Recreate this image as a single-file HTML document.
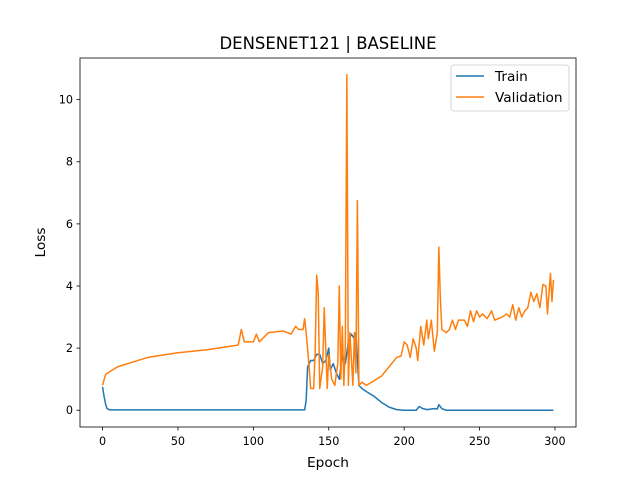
<!DOCTYPE html>
<html><head><meta charset="utf-8"><style>
body{margin:0;background:#fff}
svg{display:block;font-family:"DejaVu Sans","Liberation Sans",sans-serif}
</style></head><body>
<svg id="chart" width="640" height="480" xmlns="http://www.w3.org/2000/svg">
<rect width="640" height="480" fill="#fff"/>
<text x="328" y="49" text-anchor="middle" font-size="16.5">DENSENET121 | BASELINE</text>
<g id="ticks"></g>
<clipPath id="clip"><rect x="80" y="58" width="496" height="369"/></clipPath>
<g id="series" clip-path="url(#clip)"></g>
<rect x="80" y="58" width="496" height="369" fill="none" stroke="#000" stroke-width="0.8"/>
<text x="328" y="467" text-anchor="middle" font-size="13.7">Epoch</text>
<text transform="translate(45,242.5) rotate(-90)" text-anchor="middle" font-size="13.7">Loss</text>
<g>
<rect x="451" y="65" width="118" height="46" rx="3" fill="#fff" stroke="#ccc" stroke-width="0.8"/>
<line x1="456" y1="76" x2="484" y2="76" stroke="#1f77b4" stroke-width="1.5"/>
<text x="495" y="81" font-size="13.7">Train</text>
<line x1="456" y1="97" x2="484" y2="97" stroke="#ff7f0e" stroke-width="1.5"/>
<text x="495" y="102" font-size="13.7">Validation</text>
</g>
</svg>
<script>
const xTicks=[0,50,100,150,200,250,300];
const yTicks=[0,2,4,6,8,10];
const trainEpochs=[0,1,2,3,5,134,135,136,138,140,142,144,146,148,150,151,153,155,157,159,161,163,165,167,168,170,172,175,180,185,190,195,200,208,210,212,215,220,222,223,225,228,299];
const trainLoss=[0.75,0.45,0.2,0.05,0.01,0.01,0.3,1.4,1.6,1.6,1.8,1.8,1.5,1.6,2.0,1.3,1.5,1.2,1.0,1.8,1.5,2.2,2.45,2.3,2.5,0.8,0.7,0.6,0.45,0.25,0.1,0.02,0.0,0.0,0.12,0.06,0.02,0.05,0.04,0.18,0.05,0.0,0.0];
const valEpochs=[0,2,5,10,20,30,50,70,90,92,94,100,102,104,110,120,125,128,130,133,134,135,137,138,140,141,142,143,144,146,147,149,150,152,154,156,157,158,159,160,161,162,163,164,166,167,168,169,170,172,175,180,185,190,195,198,200,202,204,206,208,209,211,213,215,216,218,220,222,223,224,225,228,230,232,234,236,240,242,244,246,248,250,252,255,258,260,265,268,270,272,274,276,278,280,282,284,286,288,290,292,294,295,297,298,299];
const valLoss=[0.8,1.15,1.25,1.4,1.55,1.7,1.85,1.95,2.1,2.6,2.2,2.2,2.45,2.2,2.5,2.55,2.45,2.7,2.6,2.6,2.95,2.5,1.4,0.7,0.7,1.9,4.35,3.8,0.7,1.4,3.3,0.7,1.8,1.0,0.8,1.5,4.0,1.0,2.7,0.8,2.1,10.8,0.8,2.5,0.8,2.5,1.2,6.75,0.8,0.9,0.8,0.95,1.1,1.4,1.7,1.75,2.2,2.1,1.7,2.3,2.0,1.6,2.7,2.1,2.9,2.3,2.9,1.9,2.5,5.25,3.6,2.6,2.5,2.6,2.9,2.6,2.9,2.9,2.7,3.2,2.85,3.2,3.0,3.1,2.95,3.2,2.9,3.0,3.1,3.0,3.4,2.9,3.3,3.0,3.2,3.3,3.8,3.5,3.75,3.3,4.05,4.0,3.1,4.4,3.5,4.2];
const X0=-14.95,X1=313.95,Y0=-0.54,Y1=11.34;
const sx=v=>80+(v-X0)/(X1-X0)*496;
const sy=v=>427-(v-Y0)/(Y1-Y0)*369;
const NS="http://www.w3.org/2000/svg";
const tg=document.getElementById('ticks');
function mk(t,a){const e=document.createElementNS(NS,t);for(const k in a)e.setAttribute(k,a[k]);return e;}
xTicks.forEach(v=>{const x=sx(v);
 const l=mk('line',{x1:x,x2:x,y1:427,y2:430.5,stroke:'#000','stroke-width':0.8});
 
 
 tg.appendChild(l);
 const t=mk('text',{x:x,y:445,'text-anchor':'middle','font-size':11.2});t.textContent=v;
 
 
 tg.appendChild(t);});
yTicks.forEach(v=>{const y=sy(v);
 const l=mk('line',{x1:76.5,x2:80,y1:y,y2:y,stroke:'#000','stroke-width':0.8});
 
 
 tg.appendChild(l);
 const t=mk('text',{x:73,y:y+4,'text-anchor':'end','font-size':11.2});t.textContent=v;
 
 
 tg.appendChild(t);});
const sg=document.getElementById('series');
function line(xs,ys,c,name){const p=mk('polyline',{points:xs.map((x,i)=>sx(x).toFixed(2)+','+sy(ys[i]).toFixed(2)).join(' '),fill:'none',stroke:c,'stroke-width':1.5,'stroke-linejoin':'round'});
 
 
 sg.appendChild(p);}
line(trainEpochs,trainLoss,'#1f77b4','train-line');
line(valEpochs,valLoss,'#ff7f0e','validation-line');
</script>
</body></html>
